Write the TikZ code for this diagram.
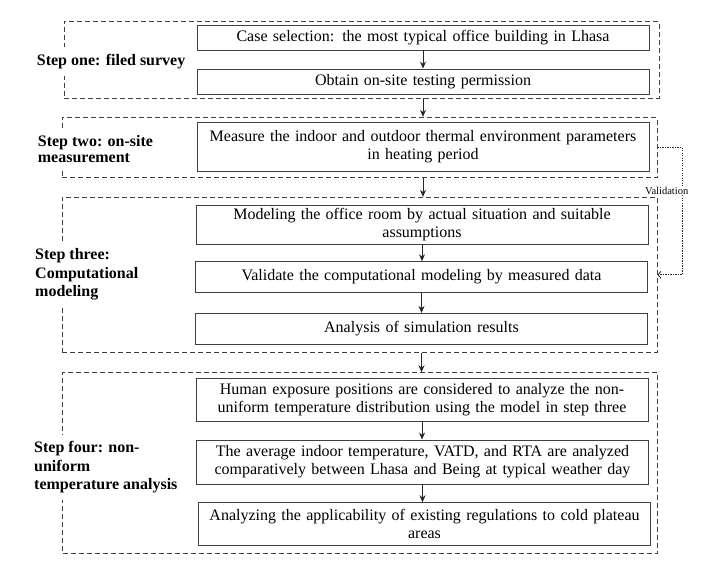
\documentclass[tikz,border=0pt]{standalone}
\usepackage{fontspec}
\setmainfont{Liberation Serif}
\usetikzlibrary{arrows.meta}

\begin{document}
\begin{tikzpicture}[x=1pt, y=-1pt,
    every node/.style={font=\fontsize{16}{17.7}\selectfont},
    box/.style={draw=black!75, line width=0.9pt, minimum width=452pt, text width=452pt, inner xsep=0pt, align=center},
    grp/.style={draw=black!75, line width=0.9pt, dash pattern=on 5pt off 3pt, minimum width=595pt, inner sep=0pt},
    steplabel/.style={fill=white, align=left, anchor=west, inner xsep=2pt, inner ysep=7pt, font=\fontsize{16}{18.5}\selectfont\bfseries},
    arr/.style={draw=black!85, line width=0.9pt, -{Stealth[length=7pt,width=6pt]}},
    fb/.style={draw=black!85, line width=0.8pt, dash pattern=on 1.2pt off 1.3pt, -{Straight Barb[length=3pt,width=7pt]}}]
    \useasboundingbox (0,0) rectangle (722,572);

    % Dashed step groups
    \node[grp, minimum height=76.3pt] (g1) at (361.5,59.9) {};
    \node[grp, minimum height=60.4pt] (g2) at (359.5,147.5) {};
    \node[grp, minimum height=155pt] (g3) at (359.5,274.8) {};
    \node[grp, minimum height=180.6pt] (g4) at (360.3,463) {};

    % Step labels
    \node[steplabel] (s1) at (34.7,61.7) {Step one: filed survey};
    \node[steplabel, font=\fontsize{16}{15.5}\selectfont\bfseries] (s2) at (35.7,149) {Step two: on-site\\measurement};
    \node[steplabel] (s3) at (33,274.5) {Step three:\\Computational\\modeling};
    \node[steplabel] (s4) at (32,467.5) {Step four: non-\\uniform\\temperature analysis};

    % Boxes
    \node[box, minimum height=24.3pt] (b1) at (423,37.9) {Case selection: the most typical office building in Lhasa};
    \node[box, minimum height=25pt] (b2) at (423,81.5) {Obtain on-site testing permission};
    \node[box, minimum height=49.7pt] (b3) at (423,146.9) {Measure the indoor and outdoor thermal environment parameters\\in heating period};
    \node[box, minimum height=39pt] (b4) at (422,224.5) {Modeling the office room by actual situation and suitable\\assumptions};
    \node[box, minimum height=30.6pt] (b5) at (421.5,277) {Validate the computational modeling by measured data};
    \node[box, minimum height=30.7pt] (b6) at (421.5,328.7) {Analysis of simulation results};
    \node[box, minimum height=43.4pt] (b7) at (422,400) {Human exposure positions are considered to analyze the non-\\uniform temperature distribution using the model in step three};
    \node[box, minimum height=44pt] (b8) at (422.5,462) {The average indoor temperature, VATD, and RTA are analyzed\\comparatively between Lhasa and Being at typical weather day};
    \node[box, minimum height=43pt] (b9) at (424.5,524.2) {Analyzing the applicability of existing regulations to cold plateau\\areas};

    % Arrows
    \draw[arr] (b1.south) -- (b2.north);
    \draw[arr] (b2 |- g1.south) -- (b3 |- g2.north);
    \draw[arr] (b3 |- g2.south) -- (b3 |- g3.north);
    \draw[arr] (b4.south) -- (b4 |- b5.north);
    \draw[arr] (b5.south) -- (b5 |- b6.north);
    \draw[arr] (b6 |- g3.south) -- (b6 |- g4.north);
    \draw[arr] (b7.south) -- (b7 |- b8.north);
    \draw[arr] (b8.south) -- (b8 |- b9.north);

    % Validation loop
    \draw[fb] (g2.east) -- ++(24.7,0) |- (g3.east);
    \node[font=\fontsize{10.5}{12}\selectfont, fill=white, inner sep=1pt] (val) at (666.7,190.7) {Validation};
\end{tikzpicture}
\end{document}
